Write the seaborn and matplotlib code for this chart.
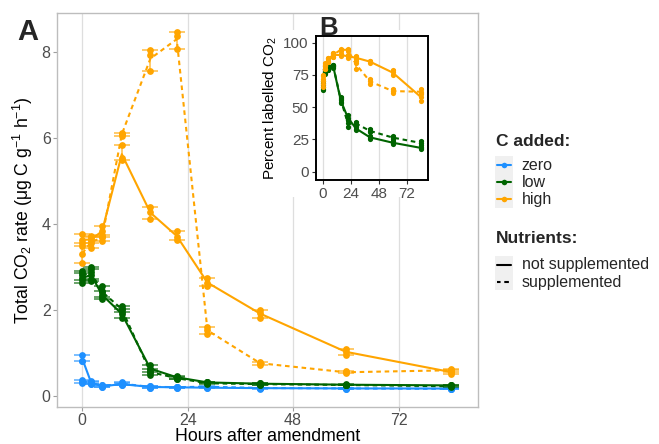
import numpy as np
import pandas as pd
import matplotlib
matplotlib.use("Agg")
import matplotlib.pyplot as plt
import seaborn as sns
from matplotlib.lines import Line2D
from matplotlib.patches import Rectangle

# ---------------- data ----------------
times = [0, 2, 4.5, 9, 15.5, 21.5, 28.5, 40.5, 60, 84]
c_levels = ["zero", "low", "high"]
nutrient_levels = ["not supplemented", "supplemented"]

# Total CO2 rate, three replicates per time point
rate_zero_ns = [[0.80, 0.82, 0.96], [0.28, 0.31, 0.34], [0.20, 0.22, 0.24], [0.24, 0.27, 0.30],
                [0.19, 0.20, 0.22], [0.18, 0.20, 0.21], [0.17, 0.19, 0.20], [0.16, 0.18, 0.19],
                [0.16, 0.17, 0.18], [0.15, 0.17, 0.18]]
rate_zero_s = [[0.30, 0.33, 0.36], [0.27, 0.30, 0.33], [0.20, 0.22, 0.24], [0.25, 0.28, 0.31],
               [0.19, 0.21, 0.22], [0.19, 0.20, 0.21], [0.20, 0.21, 0.22], [0.17, 0.18, 0.19],
               [0.16, 0.17, 0.18], [0.15, 0.16, 0.17]]
rate_low_ns = [[2.62, 2.75, 2.85], [2.68, 2.82, 2.95], [2.25, 2.35, 2.45], [1.80, 1.90, 2.02],
               [0.55, 0.62, 0.72], [0.40, 0.43, 0.46], [0.29, 0.31, 0.33], [0.26, 0.28, 0.30],
               [0.24, 0.26, 0.27], [0.22, 0.24, 0.26]]
rate_low_s = [[2.70, 2.82, 2.90], [2.72, 2.88, 3.00], [2.30, 2.42, 2.55], [1.95, 2.02, 2.08],
              [0.48, 0.55, 0.62], [0.38, 0.41, 0.44], [0.27, 0.29, 0.31], [0.25, 0.27, 0.29],
              [0.24, 0.25, 0.26], [0.20, 0.22, 0.24]]
rate_high_ns = [[3.50, 3.62, 3.78], [3.55, 3.65, 3.72], [3.70, 3.85, 3.95], [5.50, 5.55, 5.84],
                [4.12, 4.28, 4.40], [3.62, 3.70, 3.85], [2.55, 2.62, 2.74], [1.82, 1.92, 2.00],
                [0.96, 1.02, 1.09], [0.50, 0.55, 0.60]]
rate_high_s = [[3.10, 3.30, 3.55], [3.45, 3.60, 3.70], [3.60, 3.70, 3.75], [6.05, 6.10, 6.13],
               [7.57, 7.95, 8.05], [8.08, 8.38, 8.47], [1.45, 1.52, 1.60], [0.72, 0.76, 0.79],
               [0.52, 0.55, 0.57], [0.55, 0.60, 0.63]]

# Percent labelled CO2 (inset), three replicates per time point
pct_low_ns = [[63, 66, 69], [76, 78, 80], [79, 80.5, 82], [80.5, 82, 83], [53, 55.5, 57],
              [40, 42, 44], [32, 33.5, 35], [25.5, 26.5, 28], [21.5, 22.5, 23.5], [17.5, 18.5, 19.5]]
pct_low_s = [[64, 67, 70], [77, 79, 80], [79, 81, 82], [81, 82, 83], [54, 56, 58],
             [35, 37.5, 40], [36, 37.5, 38.5], [30.5, 31.5, 33], [25.5, 26.5, 27.5], [21, 22.5, 23.5]]
pct_high_ns = [[68, 72, 75], [80, 82, 84], [85, 86, 88], [89, 90.5, 92], [89.5, 90.5, 91.5],
               [88.5, 89.5, 90.5], [87, 88.5, 89.5], [84.5, 85.5, 86], [75, 77, 78.5], [55, 58, 61]]
pct_high_s = [[66, 70, 74], [80, 82, 83], [85, 87, 88], [89, 91, 92], [93.5, 94.5, 95.5],
              [93.5, 94.5, 95.5], [80, 84, 86], [68, 70, 72], [61, 62.5, 64], [60, 62, 64]]

colors = {"zero": "#1E90FF", "low": "#006400", "high": "#FFA500"}


def long_frame(series, valname):
    rows = []
    for cname, nname, reps in series:
        for t, vals in zip(times, reps):
            for v in vals:
                rows.append({"time": t, valname: v, "C": cname, "Nutrients": nname})
    return pd.DataFrame(rows)


df_rate = long_frame([
    ("zero", "not supplemented", rate_zero_ns), ("zero", "supplemented", rate_zero_s),
    ("low", "not supplemented", rate_low_ns), ("low", "supplemented", rate_low_s),
    ("high", "not supplemented", rate_high_ns), ("high", "supplemented", rate_high_s)], "rate")
df_pct = long_frame([
    ("low", "not supplemented", pct_low_ns), ("low", "supplemented", pct_low_s),
    ("high", "not supplemented", pct_high_ns), ("high", "supplemented", pct_high_s)], "pct")

# ---------------- style ----------------
sns.set_theme(style="white")
plt.rcParams["font.family"] = ["Liberation Sans", "DejaVu Sans"]
plt.rcParams["mathtext.fontset"] = "custom"
plt.rcParams["mathtext.rm"] = "Liberation Sans"
plt.rcParams["mathtext.it"] = "Liberation Sans:italic"
plt.rcParams["mathtext.bf"] = "Liberation Sans:bold"

W, H = 659, 444
fig = plt.figure(figsize=(W / 100, H / 100), dpi=100)


def fx(x):
    return x / W


def fy(y):
    return 1 - y / H


dashes = {"not supplemented": "", "supplemented": (2.2, 1.8)}
tick_grey = "#4D4D4D"


def draw_panel(ax, df, val, lw, s, capsize, cap_alpha):
    for c in [c for c in c_levels if c in df["C"].unique()]:
        for n in nutrient_levels:
            sub = df[(df["C"] == c) & (df["Nutrients"] == n)]
            sns.lineplot(data=sub, x="time", y=val, estimator="mean", errorbar=None,
                         color=colors[c], linewidth=lw, ax=ax, legend=False,
                         linestyle="-" if n == "not supplemented" else (0, dashes[n]))
            agg = sub.groupby("time")[val].agg(["mean", "min", "max"]).reset_index()
            ax.errorbar(agg["time"], agg["mean"],
                        yerr=[agg["mean"] - agg["min"], agg["max"] - agg["mean"]],
                        fmt="none", ecolor=colors[c], elinewidth=1.1, capsize=capsize,
                        capthick=1.1, alpha=cap_alpha, zorder=3)
            sns.scatterplot(data=sub, x="time", y=val, color=colors[c], s=s,
                            linewidth=0, ax=ax, legend=False, zorder=4)


# ---------------- main panel A ----------------
ax = fig.add_axes([fx(57), fy(407), (478 - 57) / W, (407 - 13) / H])
ax.set_zorder(0)
draw_panel(ax, df_rate, "rate", lw=1.5, s=24, capsize=5.5, cap_alpha=0.75)
ax.set_xlim(-5.76, 90.1)
ax.set_ylim(-0.263, 8.92)
ax.set_xticks([0, 24, 48, 72])
ax.set_yticks([0, 2, 4, 6, 8])
ax.xaxis.grid(True, color="#DEDEDE", linewidth=0.9)
ax.yaxis.grid(False)
ax.set_axisbelow(True)
for sp in ax.spines.values():
    sp.set_color("#BDBDBD")
    sp.set_linewidth(1.0)
ax.tick_params(axis="both", which="major", length=3, width=0.8, color="#9E9E9E",
               labelcolor=tick_grey, labelsize=11.5, pad=1.5,
               bottom=True, left=True)
ax.set_xlabel("Hours after amendment", fontsize=12.7, color="black")
ax.xaxis.set_label_coords(0.5, -(436 - 407) / (407 - 13), transform=ax.transAxes)
ax.xaxis.label.set_va("center")
ax.set_ylabel("Total CO$_2$ rate (μg C g$^{-1}$ h$^{-1}$)", fontsize=12.7,
              color="black", labelpad=5)

# white background behind inset
fig.add_artist(Rectangle((fx(256), fy(197)), (437 - 256) / W, (197 - 30) / H,
                         transform=fig.transFigure, facecolor="white",
                         edgecolor="none", zorder=1))

# ---------------- inset panel B ----------------
ax2 = fig.add_axes([fx(315.7), fy(180), 112 / W, 144 / H])
ax2.set_zorder(2)
draw_panel(ax2, df_pct, "pct", lw=1.5, s=14, capsize=1.8, cap_alpha=0.9)
ax2.set_xlim(-6.0, 90.0)
ax2.set_ylim(-6.4, 105.2)
ax2.set_xticks([0, 24, 48, 72])
ax2.set_yticks([0, 25, 50, 75, 100])
ax2.xaxis.grid(True, color="#DEDEDE", linewidth=0.9)
ax2.yaxis.grid(False)
ax2.set_axisbelow(True)
for sp in ax2.spines.values():
    sp.set_color("black")
    sp.set_linewidth(1.4)
ax2.tick_params(axis="both", which="major", length=3, width=0.8, color="#333333",
                labelcolor=tick_grey, labelsize=11, pad=2, bottom=True, left=True)
ax2.set_xlabel("")
ax2.set_ylabel("Percent labelled CO$_2$", fontsize=11, color="black", labelpad=3)

# panel letters
fig.text(fx(17), fy(40), "A", fontsize=21, fontweight="bold", va="baseline", ha="left")
fig.text(fx(319), fy(35), "B", fontsize=18.5, fontweight="bold", va="baseline", ha="left",
         zorder=5)

# ---------------- legends ----------------
key_bg = "#F0F0F0"
fig.text(fx(496), fy(141), "C added:", fontsize=12.5, fontweight="bold", va="center", ha="left")
fig.add_artist(Rectangle((fx(495), fy(208)), 18 / W, 52 / H, transform=fig.transFigure,
                         facecolor=key_bg, edgecolor="none", zorder=2))
for i, c in enumerate(c_levels):
    yy = 165 + i * 17.2
    fig.add_artist(Line2D([fx(497), fx(511)], [fy(yy), fy(yy)], transform=fig.transFigure,
                          color=colors[c], linewidth=1.5, zorder=3))
    fig.add_artist(Line2D([fx(504)], [fy(yy)], transform=fig.transFigure, marker="o",
                          markersize=4, color=colors[c], markeredgewidth=0, zorder=3))
    fig.text(fx(521.5), fy(yy), c, fontsize=11.5, va="center", ha="left")

fig.text(fx(496), fy(238), "Nutrients:", fontsize=12.5, fontweight="bold", va="center", ha="left")
fig.add_artist(Rectangle((fx(495), fy(290)), 18 / W, 34 / H, transform=fig.transFigure,
                         facecolor=key_bg, edgecolor="none", zorder=2))
for i, n in enumerate(nutrient_levels):
    yy = 265 + i * 17.2
    ls = "-" if n == "not supplemented" else (0.5, (2.2, 1.8))
    fig.add_artist(Line2D([fx(497), fx(511)], [fy(yy), fy(yy)], transform=fig.transFigure,
                          color="black", linewidth=1.5, linestyle=ls, zorder=3))
    fig.text(fx(521.5), fy(yy), n, fontsize=11.5, va="center", ha="left")

fig.savefig("out.png", dpi=100)
